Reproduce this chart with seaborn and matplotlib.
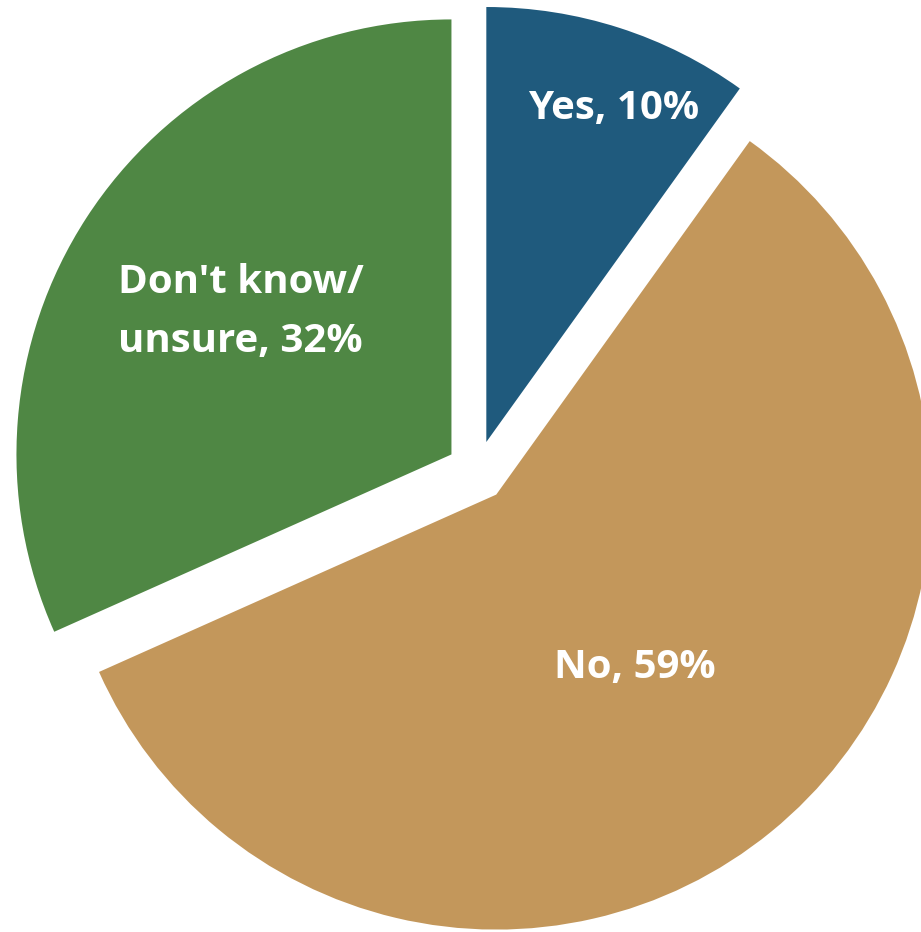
import matplotlib
matplotlib.use("Agg")
import matplotlib.pyplot as plt
import seaborn as sns
import numpy as np

sns.set_theme(style="white")
plt.rcParams["font.family"] = ["Open Sans", "DejaVu Sans"]

# Survey responses
categories = ["Yes", "No", "Don't know/\nunsure"]
values = [10, 59, 32]
colors = ["#1F5A7D", "#C3975B", "#4F8744"]

# label placement: fraction of radius from each exploded wedge's apex
label_radius = [0.82, 0.51, 0.585]
label_angle_shift = [3.0, 0.5, 1.0]   # degrees, clockwise

W, H = 921, 932
R_PX = 435.0
CX, CY = 477.0, 471.0   # pie centre in pixels from top-left

fig = plt.figure(figsize=(W / 100, H / 100), dpi=100)
ax = fig.add_axes([0, 0, 1, 1])

wedges, _ = ax.pie(
    values,
    colors=colors,
    startangle=90,
    counterclock=False,
    explode=[0.07] * len(values),
    radius=1.0,
    wedgeprops=dict(linewidth=0),
)

ax.set_xlim(-CX / R_PX, (W - CX) / R_PX)
ax.set_ylim(-(H - CY) / R_PX, CY / R_PX)
ax.set_aspect("auto")
ax.axis("off")

for w, cat, val, r, shift in zip(wedges, categories, values, label_radius, label_angle_shift):
    mid = np.deg2rad((w.theta1 + w.theta2) / 2 - shift)
    cx, cy = w.center
    ax.text(
        cx + r * np.cos(mid), cy + r * np.sin(mid),
        f"{cat}, {val}%",
        ha="center", va="center", multialignment="left",
        color="white", fontsize=29, fontweight="bold", linespacing=1.65,
    )

fig.savefig("out.png", dpi=100)
